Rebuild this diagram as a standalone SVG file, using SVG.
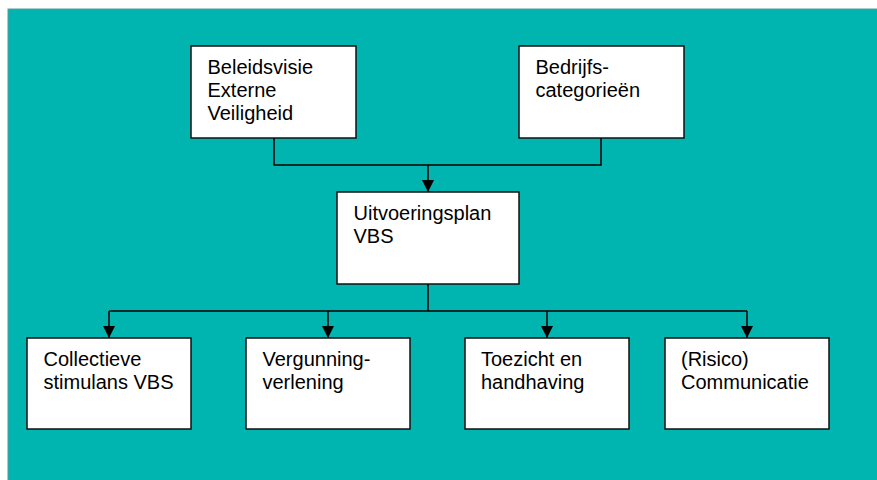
<svg xmlns="http://www.w3.org/2000/svg" width="877" height="480" viewBox="0 0 877 480">
  <defs>
    <marker id="arrow" viewBox="0 0 12 12" refX="12" refY="6" markerWidth="12" markerHeight="12" markerUnits="userSpaceOnUse" orient="auto">
      <path d="M0,0 L12,6 L0,12 Z" fill="#000"/>
    </marker>
    <style>
      .box { fill: #ffffff; stroke: #111111; stroke-width: 1.5; }
      .lbl { font-family: "Liberation Sans", Arial, sans-serif; font-size: 20px; fill: #000000; }
      .conn { fill: none; stroke: #000000; stroke-width: 1.5; }
    </style>
  </defs>
  <rect x="0" y="0" width="877" height="480" fill="#ffffff"/>
  <rect x="8" y="9" width="870" height="472" fill="#00B5B0" stroke="#5a9a98" stroke-width="1"/>

  <g id="connectors">
    <path class="conn" d="M274,138 V165 H601 V138"/>
    <path class="conn" d="M428,165 V192" marker-end="url(#arrow)"/>
    <path class="conn" d="M428,284 V311"/>
    <path class="conn" d="M109,311 H747"/>
    <path class="conn" d="M109,311 V338" marker-end="url(#arrow)"/>
    <path class="conn" d="M328,311 V338" marker-end="url(#arrow)"/>
    <path class="conn" d="M547,311 V338" marker-end="url(#arrow)"/>
    <path class="conn" d="M747,311 V338" marker-end="url(#arrow)"/>
  </g>

  <g id="beleidsvisie">
    <rect class="box" x="191" y="46" width="165" height="92"/>
    <text class="lbl" x="207.5" y="74">Beleidsvisie</text>
    <text class="lbl" x="207.5" y="97">Externe</text>
    <text class="lbl" x="207.5" y="120">Veiligheid</text>
  </g>

  <g id="bedrijfscategorieen">
    <rect class="box" x="519" y="46" width="165" height="92"/>
    <text class="lbl" x="535.5" y="74">Bedrijfs-</text>
    <text class="lbl" x="535.5" y="97">categorieën</text>
  </g>

  <g id="uitvoeringsplan">
    <rect class="box" x="337" y="192" width="182" height="92"/>
    <text class="lbl" x="353.5" y="220">Uitvoeringsplan</text>
    <text class="lbl" x="353.5" y="243">VBS</text>
  </g>

  <g id="collectieve">
    <rect class="box" x="27" y="338" width="164" height="91"/>
    <text class="lbl" x="43.5" y="366">Collectieve</text>
    <text class="lbl" x="43.5" y="389">stimulans VBS</text>
  </g>

  <g id="vergunningverlening">
    <rect class="box" x="246" y="338" width="164" height="91"/>
    <text class="lbl" x="262.5" y="366">Vergunning-</text>
    <text class="lbl" x="262.5" y="389">verlening</text>
  </g>

  <g id="toezicht">
    <rect class="box" x="465" y="338" width="164" height="91"/>
    <text class="lbl" x="481" y="366">Toezicht en</text>
    <text class="lbl" x="481" y="389">handhaving</text>
  </g>

  <g id="communicatie">
    <rect class="box" x="665" y="338" width="164" height="91"/>
    <text class="lbl" x="681" y="366">(Risico)</text>
    <text class="lbl" x="681" y="389">Communicatie</text>
  </g>
</svg>
